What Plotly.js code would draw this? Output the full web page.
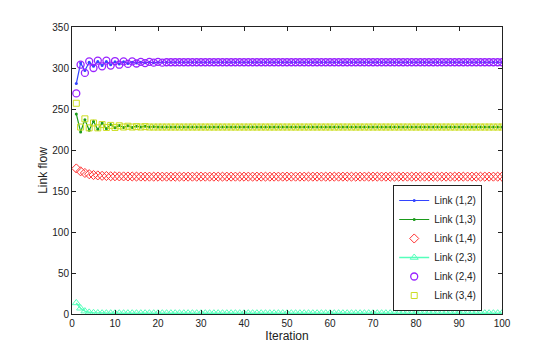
<!DOCTYPE html>
<html>
<head>
<meta charset="utf-8">
<script src="https://cdn.plot.ly/plotly-3.0.1.min.js"></script>
<style>
  body { margin: 0; background: #fff; }
  #myDiv { width: 554px; height: 353px; }
</style>
</head>
<body>
<div id="myDiv"></div>
<script>
// link flows per iteration (1..100)
var link12 = [281, 306, 297, 307, 302, 308, 303, 308, 304, 307.5,
        305, 307.5, 305.5, 307, 306, 307, 306.5, 307, 306.5, 307,
        307, 307, 307, 307, 307, 307, 307, 307, 307, 307,
        307, 307, 307, 307, 307, 307, 307, 307, 307, 307,
        307, 307, 307, 307, 307, 307, 307, 307, 307, 307,
        307, 307, 307, 307, 307, 307, 307, 307, 307, 307,
        307, 307, 307, 307, 307, 307, 307, 307, 307, 307,
        307, 307, 307, 307, 307, 307, 307, 307, 307, 307,
        307, 307, 307, 307, 307, 307, 307, 307, 307, 307,
        307, 307, 307, 307, 307, 307, 307, 307, 307, 307]
var link13 = [244, 222, 237, 224, 235, 225, 233, 226, 231, 227,
        230, 227.5, 229.5, 227.5, 229, 228, 229, 228, 228.5, 228,
        228, 228, 228, 228, 228, 228, 228, 228, 228, 228,
        228, 228, 228, 228, 228, 228, 228, 228, 228, 228,
        228, 228, 228, 228, 228, 228, 228, 228, 228, 228,
        228, 228, 228, 228, 228, 228, 228, 228, 228, 228,
        228, 228, 228, 228, 228, 228, 228, 228, 228, 228,
        228, 228, 228, 228, 228, 228, 228, 228, 228, 228,
        228, 228, 228, 228, 228, 228, 228, 228, 228, 228,
        228, 228, 228, 228, 228, 228, 228, 228, 228, 228]
var link14 = [177.5, 174, 172, 170.5, 169.5, 169, 168.5, 168.3, 168, 168,
        167.8, 167.8, 167.7, 167.7, 167.6, 167.6, 167.5, 167.5, 167.5, 167.5,
        167.5, 167.5, 167.5, 167.5, 167.5, 167.5, 167.5, 167.5, 167.5, 167.5,
        167.5, 167.5, 167.5, 167.5, 167.5, 167.5, 167.5, 167.5, 167.5, 167.5,
        167.5, 167.5, 167.5, 167.5, 167.5, 167.5, 167.5, 167.5, 167.5, 167.5,
        167.5, 167.5, 167.5, 167.5, 167.5, 167.5, 167.5, 167.5, 167.5, 167.5,
        167.5, 167.5, 167.5, 167.5, 167.5, 167.5, 167.5, 167.5, 167.5, 167.5,
        167.5, 167.5, 167.5, 167.5, 167.5, 167.5, 167.5, 167.5, 167.5, 167.5,
        167.5, 167.5, 167.5, 167.5, 167.5, 167.5, 167.5, 167.5, 167.5, 167.5,
        167.5, 167.5, 167.5, 167.5, 167.5, 167.5, 167.5, 167.5, 167.5, 167.5]
var link23 = [13.5, 7, 3.5, 2, 1.5, 1.2, 1, 1, 1, 1,
        1, 1, 1, 1, 1, 1, 1, 1, 1, 1,
        1, 1, 1, 1, 1, 1, 1, 1, 1, 1,
        1, 1, 1, 1, 1, 1, 1, 1, 1, 1,
        1, 1, 1, 1, 1, 1, 1, 1, 1, 1,
        1, 1, 1, 1, 1, 1, 1, 1, 1, 1,
        1, 1, 1, 1, 1, 1, 1, 1, 1, 1,
        1, 1, 1, 1, 1, 1, 1, 1, 1, 1,
        1, 1, 1, 1, 1, 1, 1, 1, 1, 1,
        1, 1, 1, 1, 1, 1, 1, 1, 1, 1]
var link24 = [269, 304, 294, 308, 300, 309, 302, 309, 303, 308.5,
        304, 308, 305, 308, 305.5, 307.5, 306, 307.5, 306.5, 307.5,
        306.5, 307, 307, 307, 307, 307, 307, 307, 307, 307,
        307, 307, 307, 307, 307, 307, 307, 307, 307, 307,
        307, 307, 307, 307, 307, 307, 307, 307, 307, 307,
        307, 307, 307, 307, 307, 307, 307, 307, 307, 307,
        307, 307, 307, 307, 307, 307, 307, 307, 307, 307,
        307, 307, 307, 307, 307, 307, 307, 307, 307, 307,
        307, 307, 307, 307, 307, 307, 307, 307, 307, 307,
        307, 307, 307, 307, 307, 307, 307, 307, 307, 307]
var link34 = [257, 228, 238, 227, 233, 227, 231, 227.5, 230, 227.5,
        229.5, 228, 229, 228, 228.5, 228, 228.5, 228, 228, 228,
        228, 228, 228, 228, 228, 228, 228, 228, 228, 228,
        228, 228, 228, 228, 228, 228, 228, 228, 228, 228,
        228, 228, 228, 228, 228, 228, 228, 228, 228, 228,
        228, 228, 228, 228, 228, 228, 228, 228, 228, 228,
        228, 228, 228, 228, 228, 228, 228, 228, 228, 228,
        228, 228, 228, 228, 228, 228, 228, 228, 228, 228,
        228, 228, 228, 228, 228, 228, 228, 228, 228, 228,
        228, 228, 228, 228, 228, 228, 228, 228, 228, 228]

var iters = []
for (var i = 1; i <= link12.length; i++) iters.push(i)

var names = ['Link (1,2)', 'Link (1,3)', 'Link (1,4)', 'Link (2,3)', 'Link (2,4)', 'Link (3,4)']

var trace1 = {
    x: iters, y: link12, name: names[0], mode: 'lines+markers',
    line: {color: '#3344ff', width: 1.2},
    marker: {symbol: 'circle', size: 3, color: '#3344ff'}
}
var trace2 = {
    x: iters, y: link13, name: names[1], mode: 'lines+markers',
    line: {color: '#1a9a1a', width: 1.2},
    marker: {symbol: 'circle', size: 3, color: '#1a9a1a'}
}
var trace3 = {
    x: iters, y: link14, name: names[2], mode: 'markers',
    marker: {symbol: 'diamond-open', size: 7, color: '#ff3333', line: {width: 1}}
}
var trace4 = {
    x: iters, y: link23, name: names[3], mode: 'lines+markers',
    line: {color: '#55ffbb', width: 1.5},
    marker: {symbol: 'triangle-up-open', size: 7, color: '#55ffbb', line: {width: 1}}
}
var trace5 = {
    x: iters, y: link24, name: names[4], mode: 'markers',
    marker: {symbol: 'circle-open', size: 7, color: '#9922ff', line: {width: 1.3}}
}
var trace6 = {
    x: iters, y: link34, name: names[5], mode: 'markers',
    marker: {symbol: 'square-open', size: 6, color: '#ccdd22', line: {width: 1}}
}

var data = [trace1, trace2, trace3, trace4, trace5, trace6]

var axisStyle = {
    showline: true, linecolor: '#222', linewidth: 1, mirror: 'ticks',
    ticks: 'inside', ticklen: 4, tickcolor: '#222',
    showgrid: false, zeroline: false,
    tickfont: {family: 'Liberation Sans, Arial, sans-serif', size: 10, color: '#222'}
}

var layout = {
    width: 554, height: 353,
    margin: {l: 72, r: 52, t: 27, b: 39},
    paper_bgcolor: '#fff', plot_bgcolor: '#fff',
    showlegend: true,
    xaxis: Object.assign({}, axisStyle, {
        range: [0, 100], dtick: 10,
        title: {text: 'Iteration', standoff: 0,
            font: {family: 'Liberation Sans, Arial, sans-serif', size: 12, color: '#222'}}
    }),
    yaxis: Object.assign({}, axisStyle, {
        range: [0, 350], dtick: 50,
        title: {text: 'Link flow', standoff: 2,
            font: {family: 'Liberation Sans, Arial, sans-serif', size: 12, color: '#222'}}
    }),
    legend: {
        x: 0.747, y: 0.23, xanchor: 'left', yanchor: 'middle',
        bgcolor: '#fff', bordercolor: '#222', borderwidth: 1,
        font: {family: 'Liberation Sans, Arial, sans-serif', size: 10, color: '#222'},
        itemwidth: 30, tracegroupgap: 0
    }
}

Plotly.newPlot('myDiv', data, layout, {displayModeBar: false})
</script>
</body>
</html>
